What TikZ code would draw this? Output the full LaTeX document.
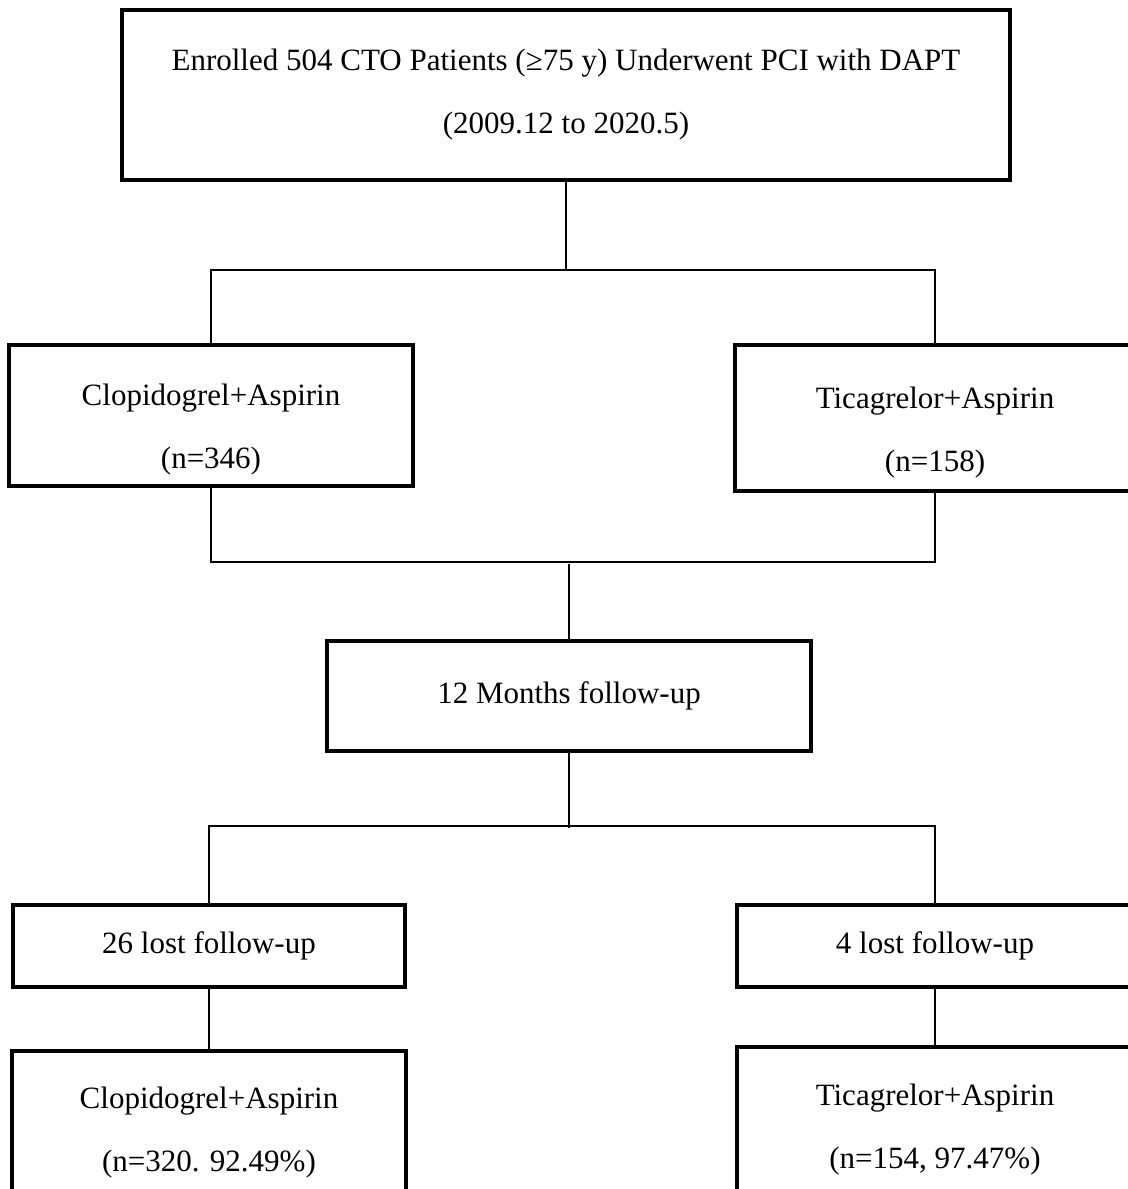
\documentclass[tikz,border=0pt]{standalone}
\usepackage{fontspec}
\setmainfont{Liberation Serif}
\usepackage{tikz}
\usetikzlibrary{positioning}
\tikzset{flowbox/.style = {draw, line width = 1.6pt, outer sep = 0, align = center, inner sep = 0, font = \fontsize{15.5}{31.5}\selectfont}}
\tikzset{armbox/.style = {flowbox, text height = 57pt, text depth = 4pt}}
\tikzset{link/.style = {line width = 1.1pt}}

\begin{document}
\begin{tikzpicture}[x=0.5pt, y=-0.5pt]
      \useasboundingbox (0, 0) rectangle (1128, 1189);
      \clip (0, 0) rectangle (1128, 1189);
      \node [flowbox, minimum width = 444pt, minimum height = 85pt] (enrol) at (566, 95)
        {Enrolled 504 CTO Patients (≥75 y) Underwent PCI with DAPT\\(2009.12 to 2020.5)};
      \node [armbox, minimum width = 202pt, minimum height = 70.5pt] (clop) at (211, 415.5) {Clopidogrel+Aspirin\\(n=346)};
      \node [armbox, minimum width = 200pt, minimum height = 73pt] (tica) at (935, 418) {Ticagrelor+Aspirin\\(n=158)};
      \node [flowbox, minimum width = 242pt, minimum height = 55pt] (follow) at (569, 696) {12 Months follow-up};
      \node [flowbox, minimum width = 196pt, minimum height = 41pt] (lostc) at (209, 946) {26 lost follow-up};
      \node [flowbox, minimum width = 198pt, minimum height = 41pt] (lostt) at (935, 946) {4 lost follow-up};
      \node [flowbox, minimum width = 197pt, minimum height = 81.5pt] (endc) at (209, 1132.5) {Clopidogrel+Aspirin\\(n=320. 92.49\%)};
      \node [flowbox, minimum width = 198pt, minimum height = 82.5pt] (endt) at (935, 1129.5) {Ticagrelor+Aspirin\\(n=154, 97.47\%)};
      % split into the two regimens
      \draw [link] (enrol.south) -- ++(0, 90);
      \draw [link] (clop.north) -- ++(0, -75) -| (tica.north);
      % join before follow-up
      \draw [link] (clop.south) -- ++(0, 76) -| (tica.south);
      \draw [link] (follow.north) -- ++(0, -77);
      % split after follow-up
      \draw [link] (follow.south) -- ++(0, 77);
      \draw [link] (lostc.north) -- ++(0, -79) -| (lostt.north);
      \draw [link] (lostc.south) -- (endc.north);
      \draw [link] (lostt.south) -- (endt.north);
    \end{tikzpicture}
\end{document}
